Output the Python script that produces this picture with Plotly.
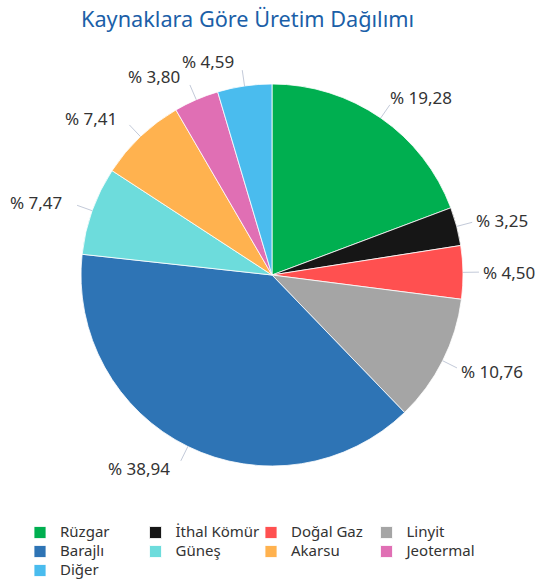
import math
import plotly.graph_objects as go

categories = ["Rüzgar", "İthal Kömür", "Doğal Gaz", "Linyit", "Barajlı",
              "Güneş", "Akarsu", "Jeotermal", "Diğer"]
values = [19.28, 3.25, 4.50, 10.76, 38.94, 7.47, 7.41, 3.80, 4.59]
colors = ["#00AF50", "#161616", "#FF5050", "#A5A5A5", "#2E74B5",
          "#6DDCDC", "#FFB24F", "#E06FB4", "#4ABCEE"]
title_text = "Kaynaklara Göre Üretim Dağılımı"

W, H = 535, 579
mt, mb = 84, 113
PH = H - mt - mb
dom_x = [81 / W, 463 / W]
font_family = "Noto Sans, Open Sans, sans-serif"

legend_labels = ['<span style="font-size:15px">%s</span>' % c for c in categories]

fig = go.Figure()
fig.add_trace(go.Pie(
    labels=legend_labels,
    values=values,
    sort=False,
    direction="clockwise",
    rotation=0,
    marker=dict(colors=colors, line=dict(color="white", width=0.8)),
    textinfo="none",
    hoverinfo="label+percent",
    domain=dict(x=dom_x, y=[0, 1]),
))

# pie geometry in pixels (follows from domain and margins)
cx = (dom_x[0] + dom_x[1]) / 2 * W
cy = mt + PH / 2
r = min((dom_x[1] - dom_x[0]) * W, PH) / 2


def px2paper(px, py):
    return px / W, (H - mb - py) / PH


# labels with connector lines, positions derived from the data
CONN = 16          # connector length beyond the pie edge
LABEL_R = r + 25   # circle on which labels sit
total = sum(values)
cum = 0.0
annotations = []
shapes = []
for cat, v in zip(categories, values):
    mid = (cum + v / 2) / total * 2 * math.pi
    cum += v
    s, c = math.sin(mid), math.cos(mid)
    right = s >= 0
    x0, y0 = px2paper(cx + r * s, cy - r * c)
    x1, y1 = px2paper(cx + (r + CONN) * s, cy - (r + CONN) * c)
    shapes.append(dict(type="line", xref="paper", yref="paper",
                       x0=x0, y0=y0, x1=x1, y1=y1,
                       line=dict(color="#C3CAD9", width=1)))
    ty = cy - LABEL_R * c
    dy = ty - cy
    half = math.sqrt(max(LABEL_R ** 2 - dy ** 2, 0.0))
    tx = cx + (half if right else -half) - 5.5
    ax_, ay_ = px2paper(tx, ty)
    annotations.append(dict(
        x=ax_, y=ay_, xref="paper", yref="paper",
        text="% " + f"{v:.2f}".replace(".", ","),
        showarrow=False,
        xanchor="left" if right else "right",
        yanchor="middle",
        font=dict(family=font_family, size=17, color="#333333"),
        borderpad=0,
    ))

annotations.append(dict(
    x=247 / W, y=1 + (mt - 18) / PH,
    xref="paper", yref="paper", showarrow=False,
    text=title_text, xanchor="center", yanchor="middle",
    font=dict(family=font_family, size=21.7, color="#1B5FA8"),
))

fig.update_layout(
    width=W, height=H,
    margin=dict(l=0, r=0, t=mt, b=mb, autoexpand=False),
    paper_bgcolor="white",
    plot_bgcolor="white",
    annotations=annotations,
    shapes=shapes,
    showlegend=True,
    legend=dict(
        orientation="h",
        x=20 / W,
        y=-(518 - (H - mb)) / PH,
        xanchor="left", yanchor="top",
        entrywidth=70.5, entrywidthmode="pixels",
        font=dict(family=font_family, size=12, color="#333333"),
        traceorder="normal",
        itemwidth=30,
        tracegroupgap=0,
    ),
)

fig.write_html("out.html")
